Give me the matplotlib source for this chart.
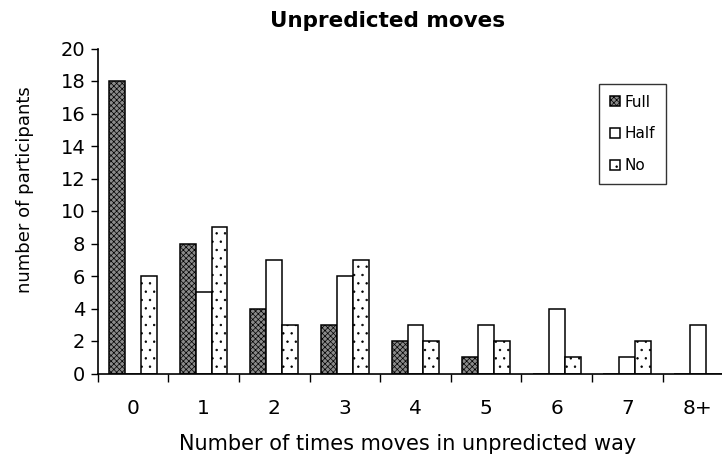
import matplotlib.pyplot as plt
import numpy as np

# categories and counts per group
categories = ['0', '1', '2', '3', '4', '5', '6', '7', '8+']
full = [18, 8, 4, 3, 2, 1, 0, 0, 0]
half = [0, 5, 7, 6, 3, 3, 4, 1, 3]
no = [6, 9, 3, 7, 2, 2, 1, 2, 0]

plt.rcParams['font.family'] = ['DejaVu Sans']
plt.rcParams['hatch.linewidth'] = 0.5

fig = plt.figure(figsize=(7.22, 4.58), dpi=100)
# axes runs past the right edge of the figure, like the reference
ax = fig.add_axes([97.7 / 722, 1 - 373.5 / 458, 635.5 / 722, 325 / 458])

x = np.arange(len(categories))
w = 0.225
ax.bar(x - w, full, w, color='#8a8a8a', edgecolor='black', hatch='xxxxxx', linewidth=1.1, label='Full')
ax.bar(x, half, w, color='white', edgecolor='black', linewidth=1.1, label='Half')
ax.bar(x + w, no, w, color='white', edgecolor='black', hatch='..', linewidth=1.1, label='No')

ax.set_xlim(-0.5, len(categories) - 0.5)
ax.set_ylim(0, 20)
ax.set_yticks(range(0, 21, 2))
ax.tick_params(axis='y', labelsize=14, length=5, width=1, direction='out', pad=4)

# x ticks between categories, labels centered
ax.set_xticks(np.arange(-0.5, len(categories), 1))
ax.set_xticklabels([])
ax.set_xticks(x, minor=True)
ax.set_xticklabels(categories, minor=True, fontsize=14.5)
ax.tick_params(axis='x', which='major', length=6, width=1, direction='out')
ax.tick_params(axis='x', which='minor', length=0, pad=18)

for s in ['top', 'right']:
    ax.spines[s].set_visible(False)
for s in ['left', 'bottom']:
    ax.spines[s].set_linewidth(1.2)

fig.text(388 / 722, 1 - 21 / 458, 'Unpredicted moves', ha='center', va='center',
         fontsize=15.5, fontweight='bold')
fig.text(408 / 722, 1 - 444 / 458, 'Number of times moves in unpredicted way',
         ha='center', va='center', fontsize=15)
fig.text(25 / 722, 1 - 190 / 458, 'number of participants', rotation=90,
         ha='center', va='center', fontsize=13)

leg = ax.legend(loc='upper left', bbox_to_anchor=(599 / 722, 1 - 84 / 458),
                bbox_transform=fig.transFigure, fontsize=11, frameon=True,
                fancybox=False, edgecolor='black', handlelength=0.65,
                handleheight=0.65, labelspacing=1.1, handletextpad=0.35,
                borderpad=0.7, borderaxespad=0)
leg.get_frame().set_linewidth(1)

fig.savefig('out.png', dpi=100)
